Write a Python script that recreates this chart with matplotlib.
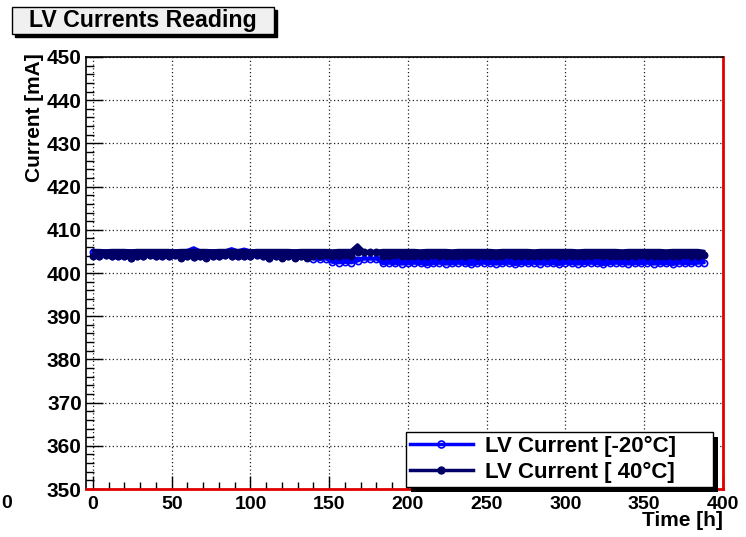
import numpy as np
import matplotlib
matplotlib.use('Agg')
import matplotlib.pyplot as plt
from matplotlib.patches import Rectangle
from matplotlib.lines import Line2D
from matplotlib.transforms import IdentityTransform

# Lecturas de corriente LV agrupadas cada 4 horas: valor maximo y minimo de cada intervalo
hours = np.arange(0, 389, 4)

cold_upper = [
    405.2, 405.1, 405.1, 405.1, 405.1, 405.1, 405.1, 405.1, 405.1, 405.1,
    405.1, 405.1, 405.1, 405.1, 405.1, 405.2, 405.8, 405.1, 405.1, 405.1,
    405.1, 405.1, 405.6, 405.1, 405.5, 405.1, 405.1, 405.1, 405.1, 405.1,
    405.1, 405.1, 405.1, 405.0, 405.0, 404.3, 404.2, 404.3, 403.5, 403.6,
    403.5, 403.4, 403.4, 403.3, 403.3, 403.3, 403.6, 403.6, 403.5, 403.6,
    403.6, 403.5, 403.6, 403.6, 403.5, 403.6, 403.6, 403.6, 403.5, 403.6,
    403.6, 403.5, 403.6, 403.6, 403.6, 403.5, 403.6, 403.6, 403.5, 403.6,
    403.6, 403.6, 403.5, 403.6, 403.6, 403.5, 403.6, 403.6, 403.6, 403.5,
    403.6, 403.6, 403.5, 403.6, 403.6, 403.6, 403.5, 403.6, 403.6, 403.5,
    403.6, 403.6, 403.6, 403.5, 403.6, 403.6, 403.5, 403.5,
]

cold_lower = [
    404.8, 404.0, 404.1, 404.0, 404.0, 403.9, 403.5, 404.0, 404.0, 404.1,
    404.0, 404.0, 404.0, 404.1, 403.6, 404.0, 403.7, 404.0, 403.6, 404.0,
    404.0, 404.1, 404.0, 404.0, 404.0, 404.0, 404.1, 404.0, 403.5, 404.0,
    403.6, 404.0, 403.6, 404.0, 403.6, 403.3, 403.2, 403.3, 402.5, 402.4,
    402.5, 402.4, 402.8, 403.3, 403.3, 403.3, 402.2, 402.3, 402.2, 402.1,
    402.2, 402.3, 402.2, 402.0, 402.2, 402.3, 402.1, 402.2, 402.3, 402.2,
    402.0, 402.2, 402.3, 402.2, 402.1, 402.2, 402.3, 402.0, 402.2, 402.2,
    402.3, 402.1, 402.2, 402.2, 402.0, 402.3, 402.2, 402.1, 402.2, 402.3,
    402.2, 402.0, 402.2, 402.3, 402.2, 402.1, 402.2, 402.2, 402.3, 402.1,
    402.2, 402.2, 402.0, 402.3, 402.2, 402.2, 402.3, 402.4,
]

hot_upper = [
    405.2, 405.2, 405.1, 405.2, 405.2, 405.2, 405.1, 405.2, 405.2, 405.2,
    405.2, 405.2, 405.2, 405.1, 405.2, 405.2, 405.2, 405.2, 405.2, 405.1,
    405.2, 405.2, 405.2, 405.2, 405.2, 405.1, 405.2, 405.2, 405.2, 405.2,
    405.2, 405.2, 405.1, 405.2, 405.2, 405.2, 405.2, 405.2, 405.1, 405.2,
    405.2, 405.2, 406.5, 405.0, 404.9, 405.0, 405.2, 405.2, 405.2, 405.2,
    405.2, 405.2, 405.1, 405.2, 405.2, 405.2, 405.2, 405.1, 405.2, 405.2,
    405.2, 405.2, 405.2, 405.2, 405.1, 405.2, 405.2, 405.2, 405.2, 405.2,
    405.1, 405.2, 405.2, 405.2, 405.2, 405.2, 405.2, 405.1, 405.2, 405.2,
    405.2, 405.2, 405.2, 405.2, 405.1, 405.2, 405.2, 405.2, 405.2, 405.2,
    405.2, 405.1, 405.2, 405.2, 405.2, 405.2, 405.2, 405.0,
]

hot_lower = [
    404.0, 404.0, 404.1, 404.0, 404.0, 403.9, 403.4, 404.0, 404.0, 404.1,
    404.0, 404.0, 404.0, 404.1, 403.5, 404.0, 403.6, 404.0, 403.5, 404.0,
    404.0, 404.1, 404.0, 404.0, 404.0, 404.0, 404.1, 404.0, 403.4, 404.0,
    403.5, 404.0, 403.5, 404.0, 403.5, 404.0, 404.0, 404.1, 404.0, 404.0,
    404.1, 404.0, 404.9, 404.9, 404.8, 404.9, 404.0, 404.0, 404.1, 404.0,
    404.0, 403.9, 404.0, 404.0, 404.1, 404.0, 404.0, 403.9, 404.0, 404.0,
    404.1, 404.0, 404.0, 403.9, 404.0, 404.0, 404.1, 404.0, 404.0, 404.0,
    403.9, 404.0, 404.0, 404.1, 404.0, 404.0, 403.9, 404.0, 404.0, 404.0,
    404.1, 404.0, 404.0, 403.9, 404.0, 404.0, 404.0, 404.1, 404.0, 404.0,
    403.9, 404.0, 404.0, 404.0, 404.1, 404.0, 404.0, 404.2,
]

series_labels = ['LV Current [-20°C]', 'LV Current [ 40°C]']
series_colors = ['#0000ff', '#000066']
title_text = 'LV Currents Reading'
x_ticks = np.arange(0, 401, 50)
y_ticks = np.arange(350, 451, 10)

plt.rcParams['font.family'] = 'Liberation Sans'
plt.rcParams['font.weight'] = 'bold'

fig = plt.figure(figsize=(7.46, 5.37), dpi=100)
ax = fig.add_axes([86 / 746, 1 - 489 / 537, 637 / 746, 432 / 537])

# Bandas de lectura (primero -20C, encima 40C)
for z, (upper, lower, color, hollow) in enumerate([
        (cold_upper, cold_lower, series_colors[0], True),
        (hot_upper, hot_lower, series_colors[1], False)]):
    base = 3 + 2 * z
    ax.fill_between(hours, lower, upper, color=color, lw=0, zorder=base)
    ax.plot(hours, upper, color=color, lw=2.5, solid_capstyle='round',
            solid_joinstyle='round', zorder=base + 0.5)
    ax.plot(hours, lower, color=color, lw=2.5, marker='o', ms=4.5,
            mfc='none' if hollow else color, mec=color, mew=1.2,
            solid_capstyle='round', zorder=base + 0.5)

ax.set_xlim(-4.4, 400)
ax.set_ylim(350, 450)
ax.set_xticks(x_ticks)
ax.set_yticks(y_ticks)
ax.set_xticks(np.arange(0, 401, 10), minor=True)
ax.set_yticks(np.arange(350, 451, 2), minor=True)

ax.grid(True, which='major', color='#222222', linestyle=(0, (1, 2)), lw=0.9)
ax.tick_params(axis='both', which='both', direction='in', width=1.0,
               top=False, right=False)
ax.tick_params(axis='y', which='major', length=12.2, pad=3, labelsize=15)
ax.tick_params(axis='y', which='minor', length=6)
ax.tick_params(axis='x', which='major', length=9.3, pad=5, labelsize=14)
ax.tick_params(axis='x', which='minor', length=4.7)

for side in ['left', 'top']:
    ax.spines[side].set_color('black')
    ax.spines[side].set_linewidth(1.2)
for side in ['bottom', 'right']:
    ax.spines[side].set_color('#e00000')
    ax.spines[side].set_linewidth(2.0)

ax.set_xlabel('Time [h]', fontsize=15, fontweight='bold', ha='right')
ax.xaxis.set_label_coords(1.0, -0.052)
ax.set_ylabel('Current [mA]', fontsize=15, fontweight='bold', ha='right')
ax.yaxis.set_label_coords(-0.066, 1.008)

# Etiqueta suelta en el borde izquierdo
fig.text(1 / 746, 1 - 503 / 537, '0', fontsize=14, fontweight='bold',
         ha='left', va='center')

# Caja del titulo con sombra
fig.add_artist(Rectangle((15 / 746, 1 - 37 / 537), 262 / 746, 27 / 537,
                         transform=fig.transFigure, facecolor='black',
                         edgecolor='black', zorder=2))
fig.add_artist(Rectangle((12 / 746, 1 - 34 / 537), 262 / 746, 27 / 537,
                         transform=fig.transFigure, facecolor='#f0f0f0',
                         edgecolor='black', lw=1.0, zorder=3))
fig.text(143 / 746, 1 - 20.5 / 537, title_text, fontsize=16.7,
         fontweight='bold', ha='center', va='center', zorder=4)

# Leyenda
handles = [
    Line2D([], [], color=series_colors[0], lw=2.5, marker='o', ms=5,
           mfc='none', mec=series_colors[0], mew=1.2),
    Line2D([], [], color=series_colors[1], lw=2.5, marker='o', ms=5,
           mfc=series_colors[1], mec=series_colors[1]),
]
leg = ax.legend(handles, series_labels, loc='upper left', mode='expand',
                numpoints=1,
                bbox_to_anchor=(406 / 746, 1 - 432 / 537 - 0.05, 307 / 746, 0.05),
                bbox_transform=fig.transFigure, fontsize=16,
                handlelength=2.85, handletextpad=0.55, labelspacing=0.22,
                borderpad=0.17, borderaxespad=0, fancybox=False, framealpha=1)
leg.get_frame().set_edgecolor('black')
leg.get_frame().set_linewidth(1.0)
leg.set_zorder(6)

fig.canvas.draw()
bb = leg.get_window_extent()
shadow = Rectangle((bb.x0 + 5, bb.y0 - 5), bb.width, bb.height,
                   transform=IdentityTransform(), facecolor='black',
                   edgecolor='none', clip_on=False, zorder=5.5)
ax.add_artist(shadow)

fig.savefig('out.png', dpi=100)
